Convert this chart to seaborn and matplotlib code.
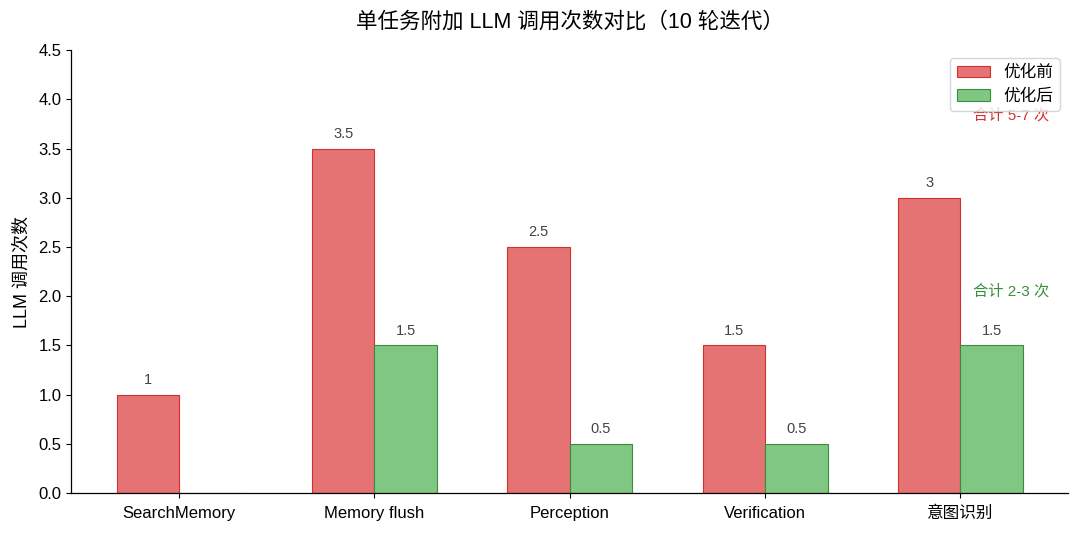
import matplotlib
matplotlib.use("Agg")
import matplotlib.pyplot as plt
import seaborn as sns
import numpy as np
import pandas as pd

categories = ["SearchMemory", "Memory flush", "Perception", "Verification", "意图识别"]
before = [1, 3.5, 2.5, 1.5, 3]
after = [0, 1.5, 0.5, 0.5, 1.5]
series_names = ["优化前", "优化后"]
title = "单任务附加 LLM 调用次数对比（10 轮迭代）"
ylabel = "LLM 调用次数"
note_before = "合计 5-7 次"
note_after = "合计 2-3 次"

sns.set_theme(style="ticks")
plt.rcParams['font.family'] = ['Liberation Sans', 'Noto Sans CJK SC', 'DejaVu Sans']
plt.rcParams.update({
    "text.color": "black", "axes.labelcolor": "black",
    "xtick.color": "black", "ytick.color": "black",
    "axes.edgecolor": "black",
    "xtick.major.size": 3.5, "ytick.major.size": 3.5,
    "xtick.major.width": 0.8, "ytick.major.width": 0.8,
    "xtick.major.pad": 5.5,
    "axes.linewidth": 0.9,
})

fig, ax = plt.subplots(figsize=(10.8, 5.33), dpi=100)
x = np.arange(len(categories))
w = 0.32
b1 = ax.bar(x - w/2, before, w, color="#e57373", edgecolor="#d32f2f", linewidth=0.8, label=series_names[0])
b2 = ax.bar(x + w/2, after, w, color="#81c784", edgecolor="#388e3c", linewidth=0.8, label=series_names[1])

for bars, vals in [(b1, before), (b2, after)]:
    for r, v in zip(bars, vals):
        if v > 0:
            ax.text(r.get_x() + r.get_width()/2, v + 0.08, f"{v:g}", ha="center", va="bottom",
                    fontsize=10.5, color="#444444")

ax.text(4.26, 3.84, note_before, ha="center", va="center", fontsize=11, color="#d32f2f")
ax.text(4.26, 2.05, note_after, ha="center", va="center", fontsize=11, color="#388e3c")

ax.set_ylim(0, 4.5)
ax.set_yticks(np.arange(0, 4.51, 0.5))
ax.set_xticks(x)
ax.set_xticklabels(categories, fontsize=12)
ax.tick_params(axis="y", labelsize=12)
ax.set_ylabel(ylabel, fontsize=13, labelpad=6)
ax.set_title(title, fontsize=15.5, pad=16)
sns.despine(ax=ax)
leg = ax.legend(loc="upper right", fontsize=12, frameon=True)
leg.set_zorder(10)

fig.subplots_adjust(left=0.066, right=0.989, top=0.906, bottom=0.075)
fig.savefig("out.png", dpi=100)
